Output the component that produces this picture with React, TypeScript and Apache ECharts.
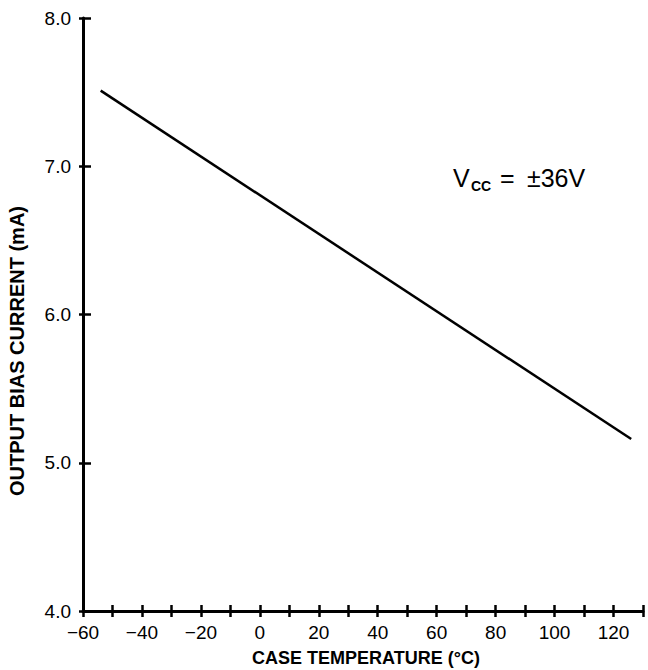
import React, { useEffect, useRef } from "react";
import * as echarts from "echarts";

const temperatures = [-54, 126];
const biasCurrent = [7.51, 5.16];
const xLabelValues = [-60, -40, -20, 0, 20, 40, 60, 80, 100, 120];
const yLabelValues = [4, 5, 6, 7, 8];
const xTitle = "CASE TEMPERATURE (°C)";
const yTitle = "OUTPUT BIAS CURRENT (mA)";

const FONT = "'Liberation Sans', Arial, Helvetica, sans-serif";

export default function App() {
  const ref = useRef<HTMLDivElement>(null);
  useEffect(() => {
    if (!ref.current) return;
    const chart = echarts.init(ref.current, undefined, { renderer: "svg" });
    const axisBase = {
      type: "value" as const,
      splitLine: { show: false },
    };
    const xCommon = {
      ...axisBase,
      min: -60,
      max: 130,
      interval: 10,
      position: "bottom" as const,
      offset: 0,
    };
    const yCommon = {
      ...axisBase,
      min: 4,
      max: 8,
      interval: 1,
      position: "left" as const,
      offset: 0,
    };
    chart.setOption({
      animation: false,
      backgroundColor: "#ffffff",
      grid: { left: 83, right: 5, top: 18, bottom: 59, containLabel: false },
      xAxis: [
        {
          ...xCommon,
          axisLine: { show: true, onZero: false, lineStyle: { color: "#000", width: 3 } },
          axisTick: { show: true, inside: false, length: 6, lineStyle: { color: "#000", width: 2.5 } },
          axisLabel: {
            show: true,
            margin: 12,
            color: "#000",
            fontFamily: FONT,
            fontSize: 19,
            formatter: (v: number) =>
              xLabelValues.includes(v) ? (v < 0 ? "\u2212" + Math.abs(v) : String(v)) : "",
          },
        },
        {
          ...xCommon,
          axisLine: { show: false, onZero: false },
          axisTick: { show: true, inside: true, length: 6, lineStyle: { color: "#000", width: 2.5 } },
          axisLabel: { show: false },
        },
      ],
      yAxis: [
        {
          ...yCommon,
          axisLine: { show: true, onZero: false, lineStyle: { color: "#000", width: 3 } },
          axisTick: { show: true, inside: false, length: 4, lineStyle: { color: "#000", width: 2.5 } },
          axisLabel: {
            show: true,
            margin: 12,
            color: "#000",
            fontFamily: FONT,
            fontSize: 19,
            formatter: (v: number) => (yLabelValues.includes(v) ? v.toFixed(1) : ""),
          },
        },
        {
          ...yCommon,
          axisLine: { show: false, onZero: false },
          axisTick: { show: true, inside: true, length: 8, lineStyle: { color: "#000", width: 2.5 } },
          axisLabel: { show: false },
        },
      ],
      series: [
        {
          type: "line",
          xAxisIndex: 0,
          yAxisIndex: 0,
          data: temperatures.map((t, i) => [t, biasCurrent[i]]),
          showSymbol: false,
          lineStyle: { color: "#000", width: 2.5 },
        },
      ],
      graphic: [
        {
          type: "text",
          x: 366,
          y: 658,
          style: {
            text: xTitle,
            fill: "#000",
            font: `bold 18px ${FONT}`,
            align: "center",
            verticalAlign: "middle",
          },
        },
        {
          type: "text",
          x: 17,
          y: 351,
          rotation: Math.PI / 2,
          style: {
            text: yTitle,
            fill: "#000",
            font: `bold 20px ${FONT}`,
            align: "center",
            verticalAlign: "middle",
          },
        },
        {
          type: "text",
          x: 453,
          y: 178,
          style: { text: "V", fill: "#000", font: `25px ${FONT}`, align: "left", verticalAlign: "middle" },
        },
        {
          type: "text",
          x: 471,
          y: 186,
          style: { text: "CC", fill: "#000", font: `bold 14px ${FONT}`, align: "left", verticalAlign: "middle" },
        },
        {
          type: "text",
          x: 500,
          y: 178,
          style: { text: "=", fill: "#000", font: `25px ${FONT}`, align: "left", verticalAlign: "middle" },
        },
        {
          type: "text",
          x: 527,
          y: 178,
          style: { text: "\u00b136V", fill: "#000", font: `25px ${FONT}`, align: "left", verticalAlign: "middle" },
        },
      ],
    });
    return () => chart.dispose();
  }, []);
  return (
    <div
      ref={ref}
      style={{ position: "fixed", left: 0, top: 0, width: 648, height: 670 }}
    />
  );
}
